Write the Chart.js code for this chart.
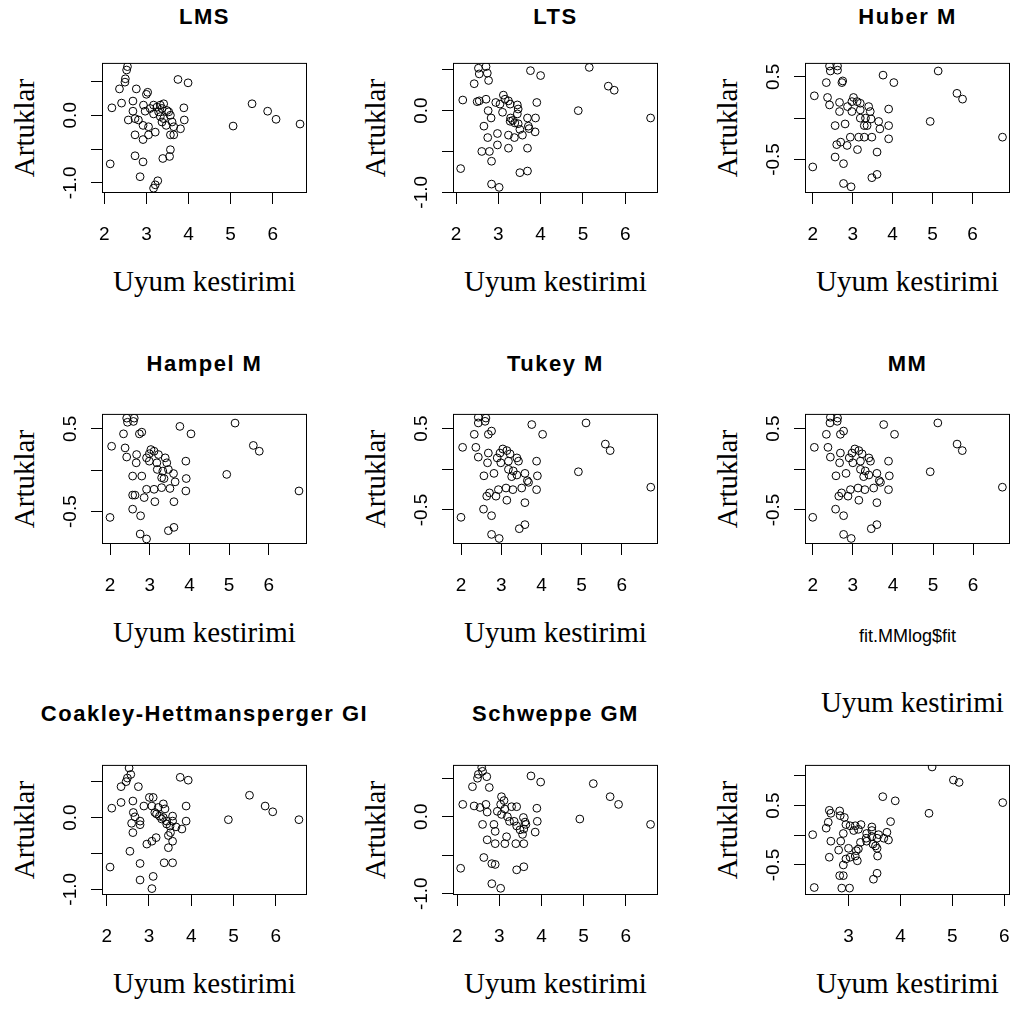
<!DOCTYPE html>
<html>
<head>
<meta charset="utf-8">
<script src="https://cdn.jsdelivr.net/npm/chart.js@4"></script>
<style>
body { margin: 0; background: #fff; width: 1014px; height: 1012px; position: relative; overflow: hidden; }
canvas { position: absolute; }
.t { position: absolute; transform: translate(-50%, -50%); white-space: nowrap; line-height: 1; color: #000; }
.main { font: bold 22px "Liberation Sans", Arial, sans-serif; letter-spacing: 1.5px; }
.lab { font: 29px "Liberation Serif", "Times New Roman", serif; }
.ylab { transform: translate(-50%, -50%) rotate(-90deg); }
.sub { font: 18px "Liberation Sans", Arial, sans-serif; }
</style>
</head>
<body>
<script>
// fitted values (Uyum kestirimi) and residuals (Artuklar) per method
const lmsFit = [2.55,2.53,2.50,2.49, 2.36,2.76,3.03,3.00, 3.75,3.99, 2.18,2.41,2.68,2.68, 2.93,2.97,3.09,3.17, 3.25,3.33,3.41,3.37, 3.49,3.53,3.29,3.17, 3.33,3.41,3.57,3.89, 3.90, 2.57,2.73,2.81,2.92, 3.05,3.21,3.37,3.47, 3.61,3.65,3.81, 3.57,3.65, 2.73,2.92,3.05, 3.57,3.55,3.39, 2.73,2.92, 2.14, 2.85, 3.27,3.21,3.17, 5.51,5.88,6.08,6.65,5.06];
const lmsRes = [0.72,0.67,0.54,0.49, 0.39,0.39,0.34,0.31, 0.53,0.48, 0.11,0.18,0.21,0.06, 0.15,0.06,0.10,0.15, 0.12,0.15,0.17,0.10, 0.07,0.05,0.05,0.02, -0.02,-0.05,0.00,0.11, -0.07, -0.07,-0.05,-0.07,-0.15, -0.17,-0.25,-0.10,-0.15, -0.10,-0.17,-0.20, -0.29,-0.29, -0.29,-0.36,-0.29, -0.51,-0.61,-0.64, -0.60,-0.69, -0.72, -0.91, -0.97,-1.03,-1.08, 0.17,0.06,-0.06,-0.13,-0.16];

const ltsFit = [2.53,2.71,2.55,2.74,2.77, 2.43, 3.76,4.00, 5.15, 5.60,5.74, 2.16, 2.50,2.55,2.71, 2.76,2.83,2.66, 2.94,3.12,3.16,3.24,3.04,3.10,3.28,3.45,3.47,3.45,3.29,3.34,3.39,3.47,3.51,3.28, 3.91,3.88,3.69,3.71,3.87,3.73, 4.89, 6.60, 2.75,2.98,2.98,3.24,3.38,3.57, 3.24,3.69, 2.61,2.79,2.84, 2.11, 3.51,3.69, 2.84,3.02];
const ltsRes = [0.52,0.54,0.45,0.46,0.37, 0.33, 0.49,0.43, 0.53, 0.30,0.25, 0.13, 0.11,0.12,0.14, 0.00,-0.09,-0.19, 0.10,0.19,0.14,0.12,0.08,-0.02,0.08,0.07,0.02,-0.04,-0.09,-0.12,-0.15,-0.16,-0.23,-0.13, 0.10,-0.09,-0.09,-0.19,-0.26,-0.22, 0.00, -0.09, -0.33,-0.28,-0.42,-0.30,-0.33,-0.30, -0.46,-0.46, -0.50,-0.50,-0.62, -0.71, -0.76,-0.74, -0.90,-0.94];

const hubFit = [2.42,2.62,2.44,2.62, 2.34,2.73,2.75, 3.76,4.03, 5.14, 5.61,5.75, 2.04,2.37,2.42,2.67,2.67,2.87,3.02,2.98,3.11,3.19,2.98,3.19,3.40,3.44,3.19,3.32,3.46,3.29,3.36,3.65,3.68,3.90,3.90,3.90, 2.81,2.56, 4.94, 6.75, 2.94,3.15,3.29,3.48, 2.70,2.60,2.86, 3.12,3.61, 2.56,2.77, 2.00, 3.48,3.61, 2.77,2.96];
const hubRes = [0.63,0.63,0.57,0.58, 0.43,0.43,0.45, 0.52,0.43, 0.57, 0.30,0.23, 0.27,0.25,0.16,0.19,0.08,0.14,0.25,0.20,0.20,0.18,0.08,0.10,0.14,0.08,0.00,0.00,-0.01,-0.09,-0.09,-0.04,-0.13,0.11,-0.09,-0.25, -0.07,-0.09, -0.04, -0.23, -0.23,-0.23,-0.23,-0.23, -0.29,-0.32,-0.33, -0.38,-0.41, -0.47,-0.55, -0.59, -0.72,-0.68, -0.79,-0.83];

const hamFit = [2.42,2.61,2.44,2.59, 2.34,2.74,2.80, 3.76,4.04, 5.15, 5.61,5.76, 2.04,2.38,2.42,2.67,2.66,2.92,3.03,2.99,3.11,3.22,2.99,3.18,3.39,3.43,3.19,3.33,3.47,3.30,3.36,3.60,3.64,3.91,3.92,3.91, 2.57,2.80, 4.94, 6.76, 2.92,3.11,3.30,3.51, 2.63,2.57,2.86, 3.13,3.61, 2.57,2.77, 2.00, 3.47,3.61, 2.76,2.92];
const hamRes = [0.63,0.63,0.58,0.59, 0.44,0.44,0.46, 0.53,0.44, 0.57, 0.30,0.23, 0.29,0.27,0.16,0.19,0.09,0.15,0.25,0.20,0.23,0.19,0.11,0.09,0.15,0.09,0.01,-0.01,0.01,-0.09,-0.10,-0.04,-0.14,0.11,-0.10,-0.25, -0.07,-0.07, -0.05, -0.25, -0.23,-0.23,-0.21,-0.22, -0.30,-0.30,-0.33, -0.38,-0.38, -0.47,-0.55, -0.57, -0.73,-0.69, -0.77,-0.83];

const tukFit = [2.43,2.62,2.43,2.60, 2.33,2.68,2.76, 3.76,4.03, 5.11, 5.59,5.71, 2.04,2.37,2.43,2.68,2.66,2.90,3.04,2.97,3.14,3.22,2.99,3.18,3.39,3.43,3.18,3.30,3.39,3.26,3.59,3.65,3.88,3.90,3.88, 2.82,2.57, 4.92, 6.72, 2.93,3.12,3.29,3.51,3.68, 2.71,2.64,2.87, 3.14,3.59, 2.56,2.76, 2.00, 3.45,3.59, 2.76,2.95];
const tukRes = [0.64,0.63,0.57,0.59, 0.43,0.43,0.47, 0.55,0.43, 0.57, 0.31,0.23, 0.27,0.27,0.15,0.20,0.08,0.14,0.25,0.20,0.23,0.19,0.08,0.10,0.14,0.10,0.00,-0.02,-0.07,-0.09,-0.05,-0.14,0.10,-0.08,-0.25, -0.05,-0.08, -0.03, -0.22, -0.25,-0.23,-0.25,-0.23,-0.16, -0.29,-0.33,-0.33, -0.38,-0.41, -0.49,-0.57, -0.59, -0.73,-0.68, -0.80,-0.85];

const mmFit = [2.44,2.62,2.43,2.61, 2.34,2.69,2.77, 3.77,4.04, 5.12, 5.60,5.73, 2.04,2.38,2.44,2.69,2.67,2.91,3.05,2.98,3.15,3.23,3.00,3.19,3.40,3.44,3.19,3.31,3.40,3.27,3.60,3.66,3.89,3.91,3.89, 2.83,2.58, 4.93, 6.73, 2.94,3.13,3.30,3.52,3.69, 2.72,2.65,2.88, 3.15,3.60, 2.57,2.77, 2.00, 3.46,3.60, 2.77,2.96];
const mmRes = [0.64,0.63,0.57,0.59, 0.43,0.43,0.47, 0.55,0.43, 0.57, 0.31,0.23, 0.27,0.27,0.15,0.20,0.08,0.14,0.25,0.20,0.23,0.19,0.08,0.10,0.14,0.10,0.00,-0.02,-0.07,-0.09,-0.05,-0.14,0.10,-0.08,-0.25, -0.05,-0.08, -0.03, -0.22, -0.25,-0.23,-0.25,-0.23,-0.16, -0.29,-0.33,-0.33, -0.38,-0.41, -0.49,-0.57, -0.59, -0.73,-0.68, -0.80,-0.85];

const ckFit = [2.53,2.57,2.49,2.46,2.34,2.75,3.74,3.93,5.38,5.75,5.93,6.55,4.88, 2.12,2.34,2.62,2.63,2.67,2.59,2.79,2.79,2.62, 2.88,3.01,3.10,3.07,3.14,3.25,3.34,3.38,3.34,3.42,3.56,3.56,3.50,3.64,3.78,3.88,3.88, 3.22, 2.95,3.07,3.17,3.46,3.56, 2.55, 2.08, 2.79,3.36,3.56, 2.79,3.10,3.07, 3.18,3.30,3.42,3.51,3.46];
const ckRes = [0.69,0.60,0.55,0.50,0.43,0.43,0.56,0.52,0.31,0.16,0.08,-0.03,-0.03, 0.13,0.21,0.23,0.07,0.01,-0.08,-0.05,-0.10,-0.21, 0.16,0.28,0.28,0.16,0.07,0.02,0.19,0.12,0.00,-0.05,0.02,-0.05,-0.12,-0.13,-0.16,0.16,-0.05, 0.14, -0.37,-0.33,-0.28,-0.42,-0.33, -0.47, -0.69, -0.64,-0.63,-0.63, -0.87,-0.82,-0.99, 0.05,-0.02,-0.09,-0.21,-0.25];

const swFit = [2.58,2.60,2.50,2.48,2.70, 2.36,2.76, 3.75,3.98, 5.23, 5.63,5.83, 4.91, 6.59, 2.13,2.40,2.54,2.68,2.71,2.60,2.87,2.90, 3.05,3.11,3.03,3.13,2.95,3.05,3.19,3.29,3.41,3.24,3.35,3.41,3.49,3.57,3.61,3.58,3.63,3.55,3.89,3.90,3.85, 2.71,2.90,3.13,3.17,3.39,3.58, 2.63,2.82,2.90, 2.08, 3.41,3.58, 2.82,3.03];
const swRes = [0.64,0.59,0.55,0.50,0.52, 0.39,0.38, 0.53,0.45, 0.43, 0.26,0.16, -0.03, -0.10, 0.16,0.14,0.12,0.16,0.06,-0.10,-0.10,-0.19, 0.26,0.21,0.16,0.10,0.07,0.03,0.00,0.13,0.13,-0.06,-0.06,-0.12,-0.17,-0.01,-0.07,-0.16,-0.10,-0.23,0.11,-0.06,-0.20, -0.30,-0.35,-0.35,-0.26,-0.35,-0.35, -0.53,-0.61,-0.62, -0.67, -0.69,-0.65, -0.87,-0.93];

const logFit = [4.61,5.02,5.13,5.97, 3.66,3.90, 4.55,3.81, 2.63,2.66,2.61,2.57,2.83,2.84,2.92,2.95,3.03,3.13,3.24,3.19,3.10,2.90,3.45,3.45,3.35,3.45,3.58,3.74,3.77,3.68,3.55,3.34,3.35,3.23,3.47,3.52,3.55, 2.31, 2.66,2.85,2.81,3.00,3.19,3.15,3.13,3.03,2.95,2.90,3.17,2.63, 3.56, 2.83,2.90,3.48,3.55, 2.34,2.87,3.02];
const logRes = [1.15,0.93,0.89,0.55, 0.65,0.58, 0.37,0.23, 0.42,0.37,0.22,0.12,0.41,0.33,0.30,0.18,0.16,0.16,0.18,0.10,0.08,0.03,0.14,0.08,0.03,-0.02,0.01,0.05,-0.08,-0.05,-0.05,-0.05,-0.10,-0.12,-0.15,-0.18,-0.22, 0.01, -0.10,-0.10,-0.25,-0.22,-0.23,-0.26,-0.35,-0.37,-0.40,-0.50,-0.43,-0.37, -0.35, -0.68,-0.68,-0.74,-0.64, -0.88,-0.89,-0.89];

// tick values and labels
const xTicks = [2, 3, 4, 5, 6];
const xTicksLog = [3, 4, 5, 6];
const yTicksWide = [-1, -0.5, 0, 0.5];
const yLabelsWide = ['-1.0', '', '0.0', ''];
const yTicksNarrow = [-0.5, 0, 0.5];
const yLabelsNarrow = ['-0.5', '', '0.5'];
const yTicksLog = [-0.5, 0, 0.5, 1];
const yLabelsLog = ['-0.5', '', '0.5', ''];

const W = 205, H = 131;
const colX = [102, 453, 805];
const rowY = [62, 413, 764];

const panels = [
  { title: 'LMS', fit: lmsFit, res: lmsRes, c: 0, r: 0, xr: [1.945, 6.815], yr: [-1.151, 0.775], xt: xTicks, yt: yTicksWide, yl: yLabelsWide },
  { title: 'LTS', fit: ltsFit, res: ltsRes, c: 1, r: 0, xr: [1.929, 6.775], yr: [-1.009, 0.585], xt: xTicks, yt: yTicksWide, yl: yLabelsWide },
  { title: 'Huber M', fit: hubFit, res: hubRes, c: 2, r: 0, xr: [1.806, 6.938], yr: [-0.905, 0.668], xt: xTicks, yt: yTicksNarrow, yl: yLabelsNarrow },
  { title: 'Hampel M', fit: hamFit, res: hamRes, c: 0, r: 1, xr: [1.798, 6.962], yr: [-0.891, 0.681], xt: xTicks, yt: yTicksNarrow, yl: yLabelsNarrow },
  { title: 'Tukey M', fit: tukFit, res: tukRes, c: 1, r: 1, xr: [1.801, 6.90], yr: [-0.918, 0.681], xt: xTicks, yt: yTicksNarrow, yl: yLabelsNarrow },
  { title: 'MM', fit: mmFit, res: mmRes, c: 2, r: 1, xr: [1.807, 6.92], yr: [-0.918, 0.681], xt: xTicks, yt: yTicksNarrow, yl: yLabelsNarrow, xlab: 'fit.MMlog$fit' },
  { title: 'Coakley-Hettmansperger GI', fit: ckFit, res: ckRes, c: 0, r: 2, xr: [1.889, 6.741], yr: [-1.079, 0.733], xt: xTicks, yt: yTicksWide, yl: yLabelsWide },
  { title: 'Schweppe GM', fit: swFit, res: swRes, c: 1, r: 2, xr: [1.898, 6.767], yr: [-1.017, 0.673], xt: xTicks, yt: yTicksWide, yl: yLabelsWide },
  { title: '', fit: logFit, res: logRes, c: 2, r: 2, xr: [2.162, 6.110], yr: [-1.006, 1.185], xt: xTicksLog, yt: yTicksLog, yl: yLabelsLog }
];

const titleY = [17, 364, 714];

function addText(cls, txt, x, y) {
  const d = document.createElement('div');
  d.className = 't ' + cls;
  d.textContent = txt;
  d.style.left = x + 'px';
  d.style.top = y + 'px';
  document.body.appendChild(d);
}

// R draws a full box round the plot region
const boxPlugin = {
  id: 'box',
  afterDraw(chart) {
    const a = chart.chartArea;
    const ctx = chart.ctx;
    ctx.save();
    ctx.strokeStyle = '#000';
    ctx.lineWidth = 1;
    ctx.strokeRect(a.left + 0.5, a.top + 0.5, a.right - a.left - 1, a.bottom - a.top - 1);
    ctx.restore();
  }
};

Chart.defaults.font.family = '"Liberation Sans", Arial, sans-serif';
Chart.defaults.color = '#000';

panels.forEach(p => {
  const left = colX[p.c], top = rowY[p.r];
  const cv = document.createElement('canvas');
  cv.width = W + 60;
  cv.height = H + 64;
  cv.style.left = (left - 50) + 'px';
  cv.style.top = (top - 4) + 'px';
  document.body.appendChild(cv);

  new Chart(cv.getContext('2d'), {
    type: 'scatter',
    data: {
      datasets: [{
        data: p.fit.map((v, i) => ({ x: v, y: p.res[i] })),
        pointStyle: 'circle',
        pointRadius: 3.9,
        pointHoverRadius: 3.9,
        borderColor: '#000',
        backgroundColor: 'rgba(0,0,0,0)',
        borderWidth: 1
      }]
    },
    options: {
      responsive: false,
      animation: false,
      events: [],
      layout: { padding: { left: 0, top: 4, right: 10, bottom: 0 } },
      plugins: { legend: { display: false }, tooltip: { enabled: false } },
      scales: {
        x: {
          type: 'linear',
          min: p.xr[0],
          max: p.xr[1],
          afterBuildTicks: s => { s.ticks = p.xt.map(v => ({ value: v })); },
          afterFit: s => { s.height = 60; s.paddingLeft = 0; s.paddingRight = 0; },
          grid: { display: true, drawOnChartArea: false, drawTicks: true, tickLength: 11, color: '#000' },
          border: { display: false },
          ticks: { font: { size: 19 }, color: '#000', padding: 19, minRotation: 0, maxRotation: 0, autoSkip: false, callback: v => String(v) }
        },
        y: {
          type: 'linear',
          min: p.yr[0],
          max: p.yr[1],
          afterBuildTicks: s => { s.ticks = p.yt.map(v => ({ value: v })); },
          afterFit: s => { s.width = 50; s.paddingTop = 0; s.paddingBottom = 0; },
          grid: { display: true, drawOnChartArea: false, drawTicks: true, tickLength: 11, color: '#000' },
          border: { display: false },
          ticks: { font: { size: 19 }, color: '#000', padding: 4, minRotation: 90, maxRotation: 90, crossAlign: 'center', autoSkip: false, callback: (v, i) => p.yl[i] }
        }
      }
    },
    plugins: [boxPlugin]
  });

  const cx = left + W / 2;
  if (p.title) addText('main', p.title, cx, titleY[p.r]);
  addText('lab ylab', 'Artuklar', left - 78, top + H / 2);
  if (p.xlab) {
    addText('sub', p.xlab, cx, top + H + 92);
    addText('lab', 'Uyum kestirimi', cx + 5, 702);
  } else {
    addText('lab', 'Uyum kestirimi', cx, top + H + 88);
  }
});
</script>
</body>
</html>
